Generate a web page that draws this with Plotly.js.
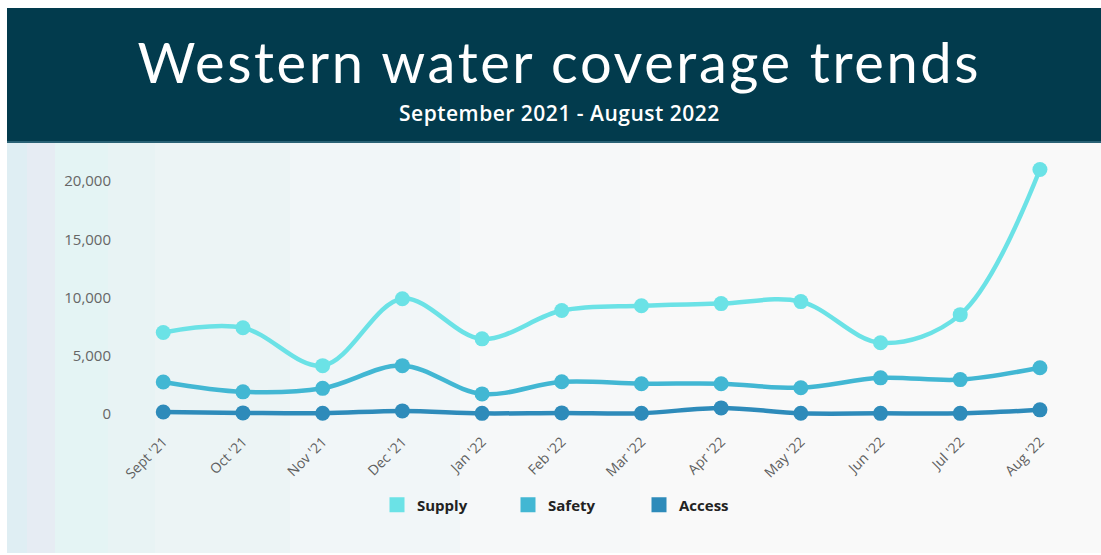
<!DOCTYPE html>
<html>
<head>
<meta charset="utf-8">
<script src="https://cdn.plot.ly/plotly-3.0.1.min.js"></script>
<style>
html,body{margin:0;padding:0;background:#fff;}
#chart{width:1101px;height:555px;}
.gtitle{letter-spacing:2.6px;}
.annotation-text{letter-spacing:0.5px;}
</style>
</head>
<body>
<div id="chart"></div>
<script>
const months = ["Sept '21","Oct '21","Nov '21","Dec '21","Jan '22","Feb '22","Mar '22","Apr '22","May '22","Jun '22","Jul '22","Aug '22"];
const supply = [7000, 7400, 4150, 9900, 6450, 8880, 9300, 9480, 9650, 6120, 8530, 21000];
const safety = [2750, 1900, 2200, 4150, 1720, 2760, 2600, 2600, 2250, 3100, 2950, 3970];
const access = [170, 90, 60, 260, 50, 90, 60, 520, 60, 50, 50, 350];
const seriesNames = ["Supply", "Safety", "Access"];
const seriesColors = ["#6be2e6", "#42b7d3", "#2e8bba"];

const W = 1101, H = 555;
const L = 125, R = 26, T = 145, B = 125;
const pw = W - L - R, ph = H - T - B;
const px = x => (x - L) / pw;
const py = y => (H - B - y) / ph;

const data = [supply, safety, access];
const traces = [];
data.forEach((vals, i) => {
  traces.push({
    x: months, y: vals, type: 'scatter', mode: 'lines+markers',
    name: seriesNames[i], showlegend: false,
    line: {color: seriesColors[i], width: 4.5, shape: 'spline', smoothing: 1},
    marker: {color: seriesColors[i], size: 15},
    hoverinfo: 'x+y+name'
  });
});
data.forEach((vals, i) => {
  traces.push({
    x: [null], y: [null], type: 'scatter', mode: 'markers',
    name: seriesNames[i], showlegend: true,
    marker: {color: seriesColors[i], size: 15, symbol: 'square'}
  });
});

const shapes = [];
// header band
shapes.push({type:'rect', xref:'paper', yref:'paper', x0:px(7), x1:px(1101), y0:py(142), y1:py(8), fillcolor:'#023b4d', line:{width:0}, layer:'below'});
shapes.push({type:'rect', xref:'paper', yref:'paper', x0:px(7), x1:px(1101), y0:py(143), y1:py(141), fillcolor:'#2a6275', line:{width:0}, layer:'below'});
// background bands
const bands = [
  [7, 27, '#dfeef3'], [27, 55, '#e6ecf3'], [55, 108, '#e4f4f4'], [108, 155, '#e8f3f4'],
  [155, 290, '#ecf4f5'], [290, 460, '#f1f6f8'], [460, 640, '#f6f8f9'], [640, 1101, '#f9f9f9']
];
bands.forEach(b => shapes.push({type:'rect', xref:'paper', yref:'paper', x0:px(b[0]), x1:px(b[1]), y0:py(553), y1:py(143), fillcolor:b[2], line:{width:0}, layer:'below'}));

const layout = {
  width: W, height: H,
  margin: {l: L, r: R, t: T, b: B, pad: 0},
  paper_bgcolor: '#ffffff',
  plot_bgcolor: 'rgba(0,0,0,0)',
  title: {
    text: 'Western water coverage trends',
    font: {family: 'Lato, "Noto Sans", sans-serif', size: 56, color: '#ffffff'},
    x: 0.508, xanchor: 'center', xref: 'container',
    y: 1 - 63 / H, yanchor: 'middle', yref: 'container'
  },
  annotations: [{
    text: 'September 2021 - August 2022', xref: 'paper', yref: 'paper',
    x: px(559), y: py(113), xanchor: 'center', yanchor: 'middle', showarrow: false,
    font: {family: '"Open Sans", sans-serif', size: 21, color: '#ffffff', weight: 600}
  }],
  shapes: shapes,
  xaxis: {
    range: [-0.48, 11.44], showgrid: false, zeroline: false, showline: false,
    tickangle: -45, tickfont: {family: '"Open Sans", sans-serif', size: 14, color: '#5f5f5f'},
    ticks: '', fixedrange: true
  },
  yaxis: {
    range: [-1379, 23103], showgrid: false, zeroline: false, showline: false,
    tickvals: [0, 5000, 10000, 15000, 20000], tickformat: ',d',
    tickfont: {family: '"Open Sans", sans-serif', size: 15, color: '#666666'},
    ticks: 'outside', ticklen: 10, tickcolor: 'rgba(0,0,0,0)', fixedrange: true
  },
  legend: {
    orientation: 'h', xref: 'paper', yref: 'paper',
    x: px(377), y: py(505), xanchor: 'left', yanchor: 'middle',
    entrywidth: 86, entrywidthmode: 'pixels',
    font: {family: '"Open Sans", sans-serif', size: 15, color: '#222222', weight: 700},
    bgcolor: 'rgba(0,0,0,0)'
  },
  showlegend: true
};

Plotly.newPlot('chart', traces, layout, {displayModeBar: false, staticPlot: true});
</script>
</body>
</html>
